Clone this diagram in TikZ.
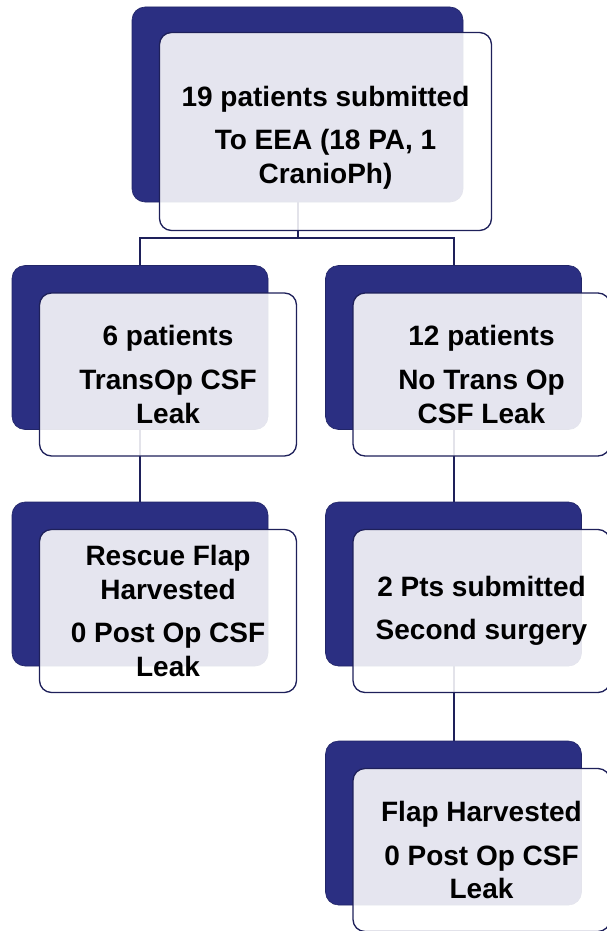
\documentclass[tikz,border=0pt]{standalone}
\usepackage{fontspec}
\setmainfont{Liberation Sans}
\usepackage{tikz}
\usetikzlibrary{backgrounds}
\definecolor{navyback}{RGB}{43,47,130}
\definecolor{navyline}{RGB}{30,32,90}
\tikzset{
  backbox/.style={draw=navyback!80!black, line width=0.6pt, fill=navyback, rounded corners=13pt,
    minimum width=256pt, minimum height=164pt, inner sep=0pt},
  frontbox/.style={draw=navyline, line width=1.3pt, fill=white, fill opacity=0.88, text opacity=1,
    rounded corners=12pt, minimum width=257pt, minimum height=163pt, inner sep=0pt, align=center,
    font=\fontsize{28}{33.6}\selectfont\bfseries, xshift=28pt, yshift=-27pt},
  link/.style={line width=2pt, color=navyline}
}
\begin{document}
\begin{tikzpicture}[x=1pt, y=-1pt]
		%%%%% START %%%%%
		\useasboundingbox (0, 0) rectangle (606, 931);
		
		% back boxes
		\node[backbox, minimum width=331pt, minimum height=195pt] (top) at (297.5, 104.5) {};
		\node[backbox] (leak) at (140, 347.5) {};
		\node[backbox] (noleak) at (453.5, 347.5) {};
		\node[backbox] (rescue) at (140, 584) {};
		\node[backbox] (second) at (453.5, 584) {};
		\node[backbox] (flap) at (453.5, 823) {};
		
		% front boxes
		\node[frontbox, minimum width=332pt, minimum height=198pt] (topT) at (top) {\raisebox{-13pt}[0pt][0pt]{\begin{tabular}{c}19 patients submitted\\[10pt]To EEA (18 PA, 1\\CranioPh)\end{tabular}}};
		\node[frontbox] (leakT) at (leak) {6 patients\\[10pt]TransOp CSF\\Leak};
		\node[frontbox] (noleakT) at (noleak) {12 patients\\[10pt]No Trans Op\\CSF Leak};
		\node[frontbox] (rescueT) at (rescue) {Rescue Flap\\Harvested\\[10pt]0 Post Op CSF\\Leak};
		\node[frontbox] (secondT) at (second) {2 Pts submitted\\[10pt]Second surgery};
		\node[frontbox] (flapT) at (flap) {Flap Harvested\\[10pt]0 Post Op CSF\\Leak};
		
		% connectors, under all boxes
		\begin{pgfonlayer}{background}
		\coordinate (bar) at ([yshift=-36pt]top.south);
		\draw[link] (top.south) -- (bar);
		\draw[link] (bar) -| (leak.north);
		\draw[link] (bar) -| (noleak.north);
		\draw[link] (leak.south) -- (rescue.north);
		\draw[link] (noleak.south) -- (second.north);
		\draw[link] (second.south) -- (flap.north);
		\end{pgfonlayer}
		
		%%%%% END %%%%%
	\end{tikzpicture}
\end{document}
